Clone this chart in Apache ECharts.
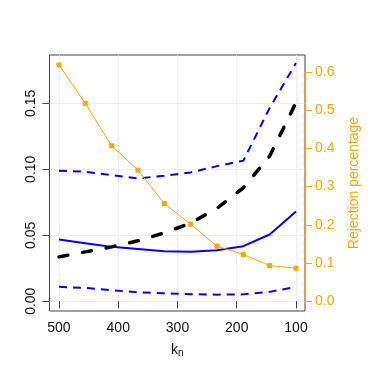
<!DOCTYPE html>
<html>
<head>
    <meta charset="UTF-8">
    <title>k_n</title>
    <script src="https://cdn.jsdelivr.net/npm/echarts@6.0.0/dist/echarts.min.js"></script>
    <style>
        html, body { margin: 0; padding: 0; background: #fff; }
        #chart { width: 379px; height: 379px; }
    </style>
</head>
<body>
    <div id="chart"></div>
    <script>
        // data
        var kn = [500, 455.6, 411.1, 366.7, 322.2, 277.8, 233.3, 188.9, 144.4, 100];
        var midLine = [0.0468, 0.0440, 0.0412, 0.0395, 0.0378, 0.0375, 0.0386, 0.0417, 0.0506, 0.0680];
        var upperBand = [0.0989, 0.0981, 0.0956, 0.0931, 0.0951, 0.0976, 0.1024, 0.1065, 0.1465, 0.1805];
        var lowerBand = [0.0109, 0.0101, 0.0083, 0.0068, 0.0061, 0.0053, 0.0050, 0.0052, 0.0071, 0.0109];
        var blackLine = [0.0336, 0.0374, 0.0412, 0.0458, 0.0518, 0.0592, 0.0705, 0.0860, 0.1100, 0.1505];
        var rejection = [0.618, 0.5175, 0.4066, 0.343, 0.2557, 0.2016, 0.144, 0.1222, 0.0934, 0.0864];

        var xTicks = [100, 200, 300, 400, 500];
        var leftTicks = [0, 0.05, 0.10, 0.15];
        var rightTicks = [0, 0.1, 0.2, 0.3, 0.4, 0.5, 0.6];

        var ORANGE = '#FFA500';
        var FONT = 'Liberation Sans, Arial, sans-serif';

        function pairs(ys) {
            return kn.map(function (x, i) { return [x, ys[i]]; });
        }

        var chart = echarts.init(document.getElementById('chart'), null, { renderer: 'canvas' });

        var option = {
            animation: false,
            textStyle: { fontFamily: FONT },
            grid: {
                left: 49.5, top: 55, right: 74, bottom: 68,
                show: true, borderColor: '#444', borderWidth: 1
            },
            xAxis: {
                type: 'value',
                inverse: true,
                min: 84.8, max: 516,
                axisLine: { show: false },
                axisTick: { customValues: xTicks, length: 7, lineStyle: { color: '#444' } },
                axisLabel: { customValues: xTicks, margin: 10, fontSize: 14, color: '#111', fontFamily: FONT },
                splitLine: { show: true, lineStyle: { color: '#dcdcdc', type: 'dotted', width: 1 } },
                name: 'k{sub|n}',
                nameLocation: 'middle',
                nameGap: 31,
                nameTextStyle: {
                    fontSize: 14, color: '#111', fontFamily: FONT,
                    rich: { sub: { fontSize: 10, color: '#111', verticalAlign: 'bottom', padding: [6, 0, 0, 0], fontFamily: FONT } }
                }
            },
            yAxis: [
                {
                    type: 'value',
                    position: 'left',
                    min: -0.0074, max: 0.1866,
                    axisLine: { show: false },
                    axisTick: { customValues: leftTicks, length: 7, lineStyle: { color: '#444' } },
                    axisLabel: {
                        customValues: leftTicks, rotate: 90, margin: 11, fontSize: 14, color: '#111', fontFamily: FONT,
                        formatter: function (v) { return v.toFixed(2); }
                    },
                    splitLine: { show: true, lineStyle: { color: '#dcdcdc', type: 'dotted', width: 1 } }
                },
                {
                    type: 'value',
                    position: 'right',
                    min: -0.0254, max: 0.644,
                    axisLine: { show: false },
                    axisTick: { customValues: rightTicks, length: 7, lineStyle: { color: ORANGE } },
                    axisLabel: {
                        customValues: rightTicks, margin: 10, fontSize: 14, color: ORANGE, fontFamily: FONT,
                        formatter: function (v) { return v.toFixed(1); }
                    },
                    splitLine: { show: false },
                    name: 'Rejection percentage',
                    nameLocation: 'middle',
                    nameRotate: 90,
                    nameGap: 42,
                    nameTextStyle: { fontSize: 14, color: ORANGE, fontFamily: FONT }
                }
            ],
            series: [
                {
                    type: 'line', data: pairs(midLine), showSymbol: false,
                    lineStyle: { color: '#0000FF', width: 2 }
                },
                {
                    type: 'line', data: pairs(upperBand), showSymbol: false,
                    lineStyle: { color: '#0000FF', width: 2, type: [8, 6] }
                },
                {
                    type: 'line', data: pairs(lowerBand), showSymbol: false,
                    lineStyle: { color: '#0000FF', width: 2, type: [8, 6] }
                },
                {
                    type: 'line', data: pairs(blackLine), showSymbol: false,
                    lineStyle: { color: '#000', width: 3.5, type: [9, 15], cap: 'round' }
                },
                {
                    type: 'line', yAxisIndex: 1, data: pairs(rejection),
                    symbol: 'rect', symbolSize: 5,
                    itemStyle: { color: ORANGE },
                    lineStyle: { color: ORANGE, width: 1 }
                }
            ]
        };
        chart.setOption(option);

        // right axis line only spans the tick range, like R's axis()
        var p0 = chart.convertToPixel({ gridIndex: 0 }, [84.8, 0]);
        var r0 = chart.convertToPixel({ yAxisIndex: 1 }, 0);
        var r6 = chart.convertToPixel({ yAxisIndex: 1 }, 0.6);
        chart.setOption({
            graphic: [{
                type: 'line',
                shape: { x1: p0[0] + 0.5, y1: r0, x2: p0[0] + 0.5, y2: r6 },
                style: { stroke: ORANGE, lineWidth: 1.5 },
                z: 100
            }]
        });
    </script>
</body>
</html>
